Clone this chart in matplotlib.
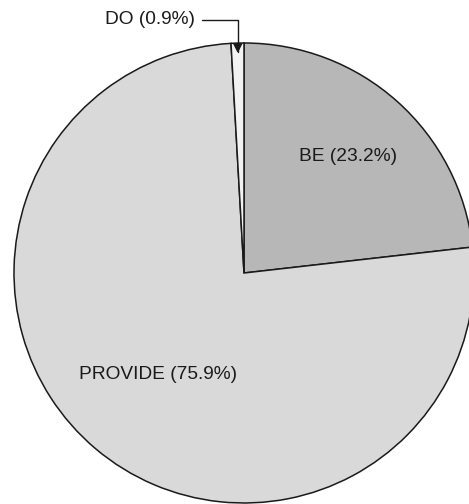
import numpy as np
import matplotlib.pyplot as plt

plt.rcParams['font.family'] = ['Liberation Sans', 'DejaVu Sans']

labels = ['BE', 'PROVIDE', 'DO']
shares = [23.2, 75.9, 0.9]
colors = ['#b7b7b7', '#d9d9d9', '#f2f2f2']

W, H = 469, 504
cx, cy, r = 244, H - 273, 230

fig = plt.figure(figsize=(W / 100, H / 100), dpi=100)
ax = fig.add_axes([0, 0, 1, 1])

wedges, _ = ax.pie(shares, colors=colors, startangle=90, counterclock=False,
                   center=(cx, cy), radius=r, frame=True,
                   wedgeprops=dict(edgecolor='#1a1a1a', linewidth=1.1))

ax.set_xlim(0, W)
ax.set_ylim(0, H)
ax.set_aspect('equal')
ax.axis('off')

# label placement (fraction of radius along the wedge's mid angle)
dist = {'BE': 0.68, 'PROVIDE': 0.58}
for w, lab, s in zip(wedges, labels, shares):
    mid = np.deg2rad((w.theta1 + w.theta2) / 2)
    txt = f"{lab} ({s}%)"
    if lab in dist:
        d = dist[lab] * r
        ax.text(cx + d * np.cos(mid), cy + d * np.sin(mid), txt,
                ha='center', va='center', fontsize=13.8, color='#1a1a1a')
    else:
        tip = (cx + (r - 10) * np.cos(mid), cy + (r - 10) * np.sin(mid))
        ax.annotate(txt, xy=tip, xytext=(195, H - 20),
                    ha='right', va='center', fontsize=13.8, color='#1a1a1a',
                    arrowprops=dict(arrowstyle='-|>', color='#1a1a1a', lw=1.0,
                                    connectionstyle='angle,angleA=0,angleB=90,rad=0',
                                    shrinkA=3, shrinkB=0, mutation_scale=14))

fig.savefig('out.png', dpi=100)
